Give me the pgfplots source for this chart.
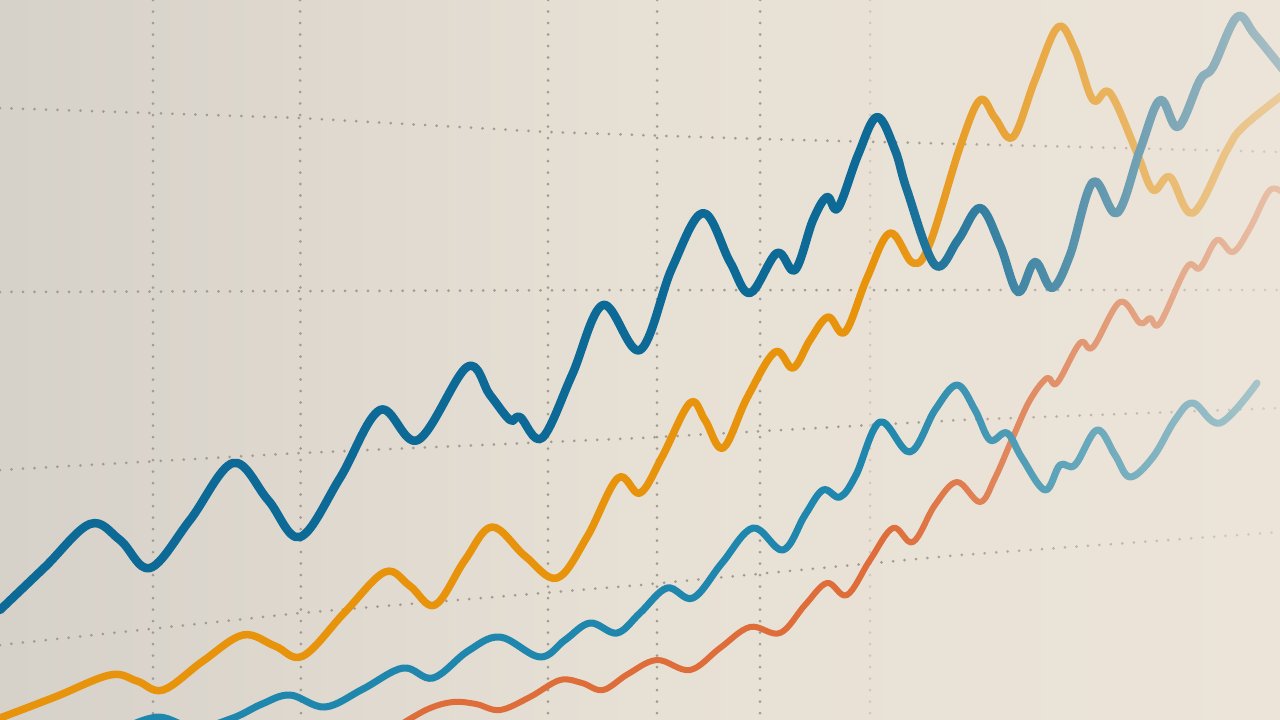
\documentclass[border=0pt]{standalone}
\usepackage{pgfplots}
\pgfplotsset{compat=1.18}
\usetikzlibrary{fadings}
\definecolor{bgL}{HTML}{D6D1C9}
\definecolor{bgM}{HTML}{E7E0D5}
\definecolor{bgR}{HTML}{ECE4D8}
\definecolor{gridc}{HTML}{A39B90}
\definecolor{cblue}{HTML}{0D6A96}
\definecolor{corange}{HTML}{E8930C}
\definecolor{cteal}{HTML}{1F87AD}
\definecolor{cred}{HTML}{DE6D3A}
\tikzfading[name=fadeR, left color=transparent!100, right color=transparent!30]
\begin{document}
\begin{tikzpicture}
\useasboundingbox (0,0) rectangle (1280bp,720bp);
\shade[left color=bgL, right color=bgR, middle color=bgM] (0,0) rectangle (1280bp,720bp);
\begin{axis}[at={(0,0)}, anchor=south west, scale only axis,
  width=1280bp, height=720bp, xmin=0, xmax=1280, ymin=0, ymax=720,
  y dir=reverse, hide axis, clip=true,
  gridl/.style={color=gridc, line width=3bp, line cap=round, dash pattern=on 0bp off 11.5bp, forget plot},
  curve/.style={smooth, tension=0.6, line cap=round, line join=round, no markers, forget plot}]
% grid (perspective)
\addplot[gridl] coordinates {(0,108)(300,118)(548,132)(760,139)(1280,152)};
\addplot[gridl] coordinates {(0,292)(640,290)(1280,290)};
\addplot[gridl] coordinates {(0,470)(300,453)(640,438)(960,420)(1280,408)};
\addplot[gridl] coordinates {(0,645)(300,613)(640,585)(960,555)(1280,532)};
\addplot[gridl] coordinates {(153,0)(153,720)};
\addplot[gridl] coordinates {(300,0)(301,720)};
\addplot[gridl] coordinates {(548,0)(548,720)};
\addplot[gridl] coordinates {(657,0)(657,720)};
\addplot[gridl] coordinates {(760,0)(760,720)};
\addplot[gridl, opacity=0.35] coordinates {(870,0)(870,720)};
% red
\addplot[curve, color=cred, line width=6bp] coordinates {
(400,725)(428,709)(453,702)(476,704)(500,710)(530,697)(560,680)(582,683)(603,690)(628,674)(657,660)(690,670)(720,648)(750,627)(780,633)(805,605)(827,583)(847,595)(870,560)(893,528)(913,542)(935,505)(957,482)(980,502)(995,478)(1013,437)(1030,400)(1047,378)(1057,383)(1080,343)(1093,347)(1120,302)(1140,323)(1150,318)(1160,323)(1187,267)(1200,268)(1217,240)(1233,252)(1250,228)(1270,190)(1285,195)};
% teal
\addplot[curve, color=cteal, line width=7bp] coordinates {
(120,730)(158,717)(195,728)(233,718)(262,704)(290,695)(325,707)(363,689)(403,668)(433,678)(468,651)(500,637)(540,657)(565,640)(590,623)(617,633)(640,613)(667,588)(693,598)(722,563)(753,528)(783,550)(805,515)(823,490)(840,497)(856,475)(880,422)(910,452)(935,410)(957,385)(975,410)(990,440)(1007,433)(1022,458)(1045,490)(1060,465)(1075,465)(1097,430)(1115,455)(1130,477)(1153,457)(1175,420)(1193,403)(1220,423)(1257,383)};
% orange
\addplot[curve, color=corange, line width=7.5bp] coordinates {
(0,718)(55,697)(110,675)(137,681)(163,690)(203,661)(243,635)(275,646)(303,656)(345,612)(385,572)(410,586)(435,605)(465,560)(492,527)(525,556)(557,578)(587,537)(618,478)(640,493)(662,457)(690,403)(705,420)(723,448)(747,398)(775,352)(793,368)(810,340)(828,317)(845,332)(867,278)(890,233)(913,263)(930,243)(960,147)(980,100)(995,118)(1013,137)(1035,80)(1058,27)(1075,50)(1093,100)(1110,93)(1137,153)(1153,190)(1170,177)(1193,213)(1227,150)(1243,127)(1285,93)};
% dark blue
\addplot[curve, color=cblue, line width=8.5bp] coordinates {
(0,610)(45,567)(90,524)(120,540)(150,568)(190,520)(233,463)(268,500)(300,537)(340,478)(380,410)(418,440)(467,367)(490,395)(510,420)(520,417)(542,438)(572,375)(603,305)(640,350)(672,268)(703,213)(730,262)(750,293)(777,253)(795,270)(813,220)(827,197)(838,208)(858,155)(877,117)(895,150)(907,190)(935,265)(958,240)(980,208)(1000,245)(1018,292)(1035,262)(1052,288)(1070,255)(1093,182)(1117,213)(1140,150)(1160,100)(1178,127)(1200,80)(1213,67)(1237,17)(1255,35)(1285,72)};
\end{axis}
\fill[bgR, path fading=fadeR] (880bp,0) rectangle (1280bp,720bp);
\end{tikzpicture}
\end{document}
